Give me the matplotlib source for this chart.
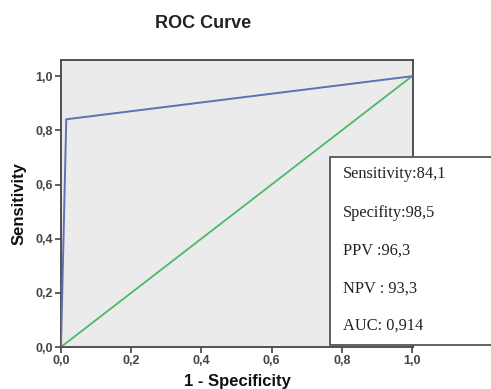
import matplotlib
matplotlib.use("Agg")
import matplotlib.pyplot as plt
from matplotlib.patches import Rectangle

fpr = [0.0, 0.015, 1.0]
tpr = [0.0, 0.841, 1.0]
ref_x = [0.0, 1.0]
ref_y = [0.0, 1.0]
ticks = [0.0, 0.2, 0.4, 0.6, 0.8, 1.0]
tick_labels = ["0,0", "0,2", "0,4", "0,6", "0,8", "1,0"]
stats = ["Sensitivity:84,1", "Specifity:98,5", "PPV :96,3", "NPV : 93,3", "AUC: 0,914"]

W, H = 491, 389
fig = plt.figure(figsize=(W/100, H/100), dpi=100)
fig.patch.set_facecolor("white")
ax = fig.add_axes([61/W, 1-347/H, (413-61)/W, (347-60)/H])
ax.set_facecolor("#ebebeb")
ax.plot(ref_x, ref_y, color="#4cb86a", lw=1.3, zorder=2)
ax.plot(fpr, tpr, color="#6070b0", lw=1.4, zorder=3)
ax.set_xlim(0, 1.003)
ax.set_ylim(0, 1.06)
ax.set_xticks(ticks)
ax.set_xticklabels(tick_labels)
ax.set_yticks(ticks)
ax.set_yticklabels(tick_labels)
for s in ax.spines.values():
    s.set_color("#444444")
    s.set_linewidth(1.3)
ax.tick_params(direction="out", length=4, width=1.2, color="#444444",
               labelsize=9, labelcolor="#444444", pad=2)
for lab in ax.get_xticklabels() + ax.get_yticklabels():
    lab.set_fontweight("bold")
    lab.set_family("Liberation Sans")
ax.set_xlabel("1 - Specificity", fontsize=12, fontweight="bold",
              family="Liberation Sans", labelpad=5, color="#111111")
ax.set_ylabel("Sensitivity", fontsize=12, fontweight="bold",
              family="Liberation Sans", labelpad=6, color="#111111")
fig.text(203/W, 1-23/H, "ROC Curve", ha="center", va="center", fontsize=13,
         fontweight="bold", family="Liberation Sans", color="#222222")

box = Rectangle((330/W, 1-345/H), (495-330)/W, (345-157)/H, transform=fig.transFigure,
                facecolor="white", edgecolor="#555555", lw=1.3, zorder=5)
fig.patches.append(box)
ys = [174, 213, 251, 289, 326]
for y, s in zip(ys, stats):
    fig.text(343/W, 1-y/H, s, ha="left", va="center", fontsize=11.8,
             family="Liberation Serif", color="#222222", zorder=6)

fig.savefig("out.png", dpi=100)
